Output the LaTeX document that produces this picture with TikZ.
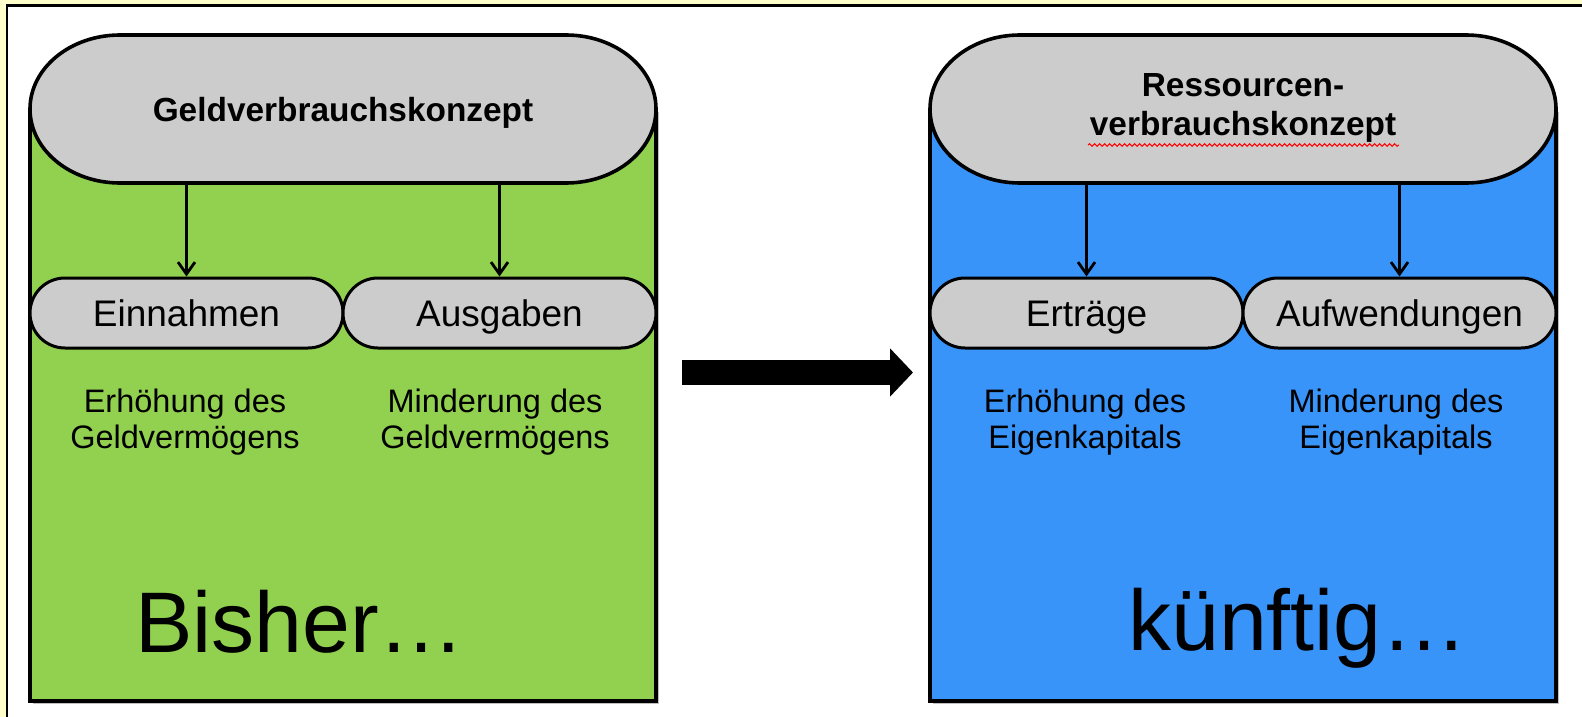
\documentclass[tikz,border=0pt]{standalone}
\usepackage{fontspec}
\setmainfont{Liberation Sans}
\usetikzlibrary{shapes.misc,arrows.meta,decorations.pathmorphing}
\definecolor{bgyellow}{HTML}{FFFFCC}
\definecolor{pillgray}{HTML}{CCCCCC}
\definecolor{boxgreen}{HTML}{92D050}
\definecolor{boxblue}{HTML}{3994F9}
\begin{document}
\begin{tikzpicture}[x=1pt,y=-1pt,
  outline/.style={draw=black,line width=3.6pt},
  pillfill/.style={fill=pillgray,draw=black,line width=3.6pt},
  pilltext/.style={minimum width=626pt,inner sep=0pt,align=center,
    font=\fontsize{33.4}{39}\selectfont\bfseries},
  subpill/.style={rounded rectangle,draw=black,fill=pillgray,line width=3pt,
    minimum width=313pt,minimum height=70pt,inner sep=0pt,
    text height=27.5pt,text depth=0pt,
    font=\fontsize{37}{44}\selectfont},
  desc/.style={align=center,inner sep=0pt,font=\fontsize{32.5}{36}\selectfont},
  bigtext/.style={inner sep=0pt,font=\fontsize{86}{100}\selectfont},
  smallarrow/.style={line width=2.8pt,-{Straight Barb[length=12pt,width=17pt]}},
  bigarrow/.style={line width=25pt,-{Triangle[length=23pt,width=47pt]}},
  shadowfill/.style={fill=black!25}
]
\useasboundingbox (0,0) rectangle (1582,717);
% page background and frame
\fill[bgyellow] (0,0) rectangle (1582,717);
\fill[white] (7,5.5) rectangle (1582,717);
\draw[line width=2.2pt] (7,717) -- (7,5.5) -- (1582,5.5);

% ---------- left column (green) ----------
\fill[shadowfill] (33,112) rectangle (659,704);
\fill[boxgreen] (30,109) rectangle (656,701);
\draw[outline] (30,109) -- (30,701) -- (656,701) -- (656,109);
\path[pillfill] (120,35) -- (566,35)
  arc[start angle=-90,end angle=90,x radius=90,y radius=74] -- (120,183)
  arc[start angle=90,end angle=270,x radius=90,y radius=74] -- cycle;
\node[pilltext,minimum height=140pt] (pillL) at (343,113) {Geldverbrauchskonzept};
\node[subpill] (einL) at (186.5,313) {Einnahmen};
\node[subpill] (ausL) at (499.5,313) {Ausgaben};
\draw[smallarrow] (pillL.south -| einL.north) -- (einL.north);
\draw[smallarrow] (pillL.south -| ausL.north) -- (ausL.north);
\node[desc] (dEinL) at (185,422.5) {Erhöhung des\\Geldvermögens};
\node[desc] (dAusL) at (495,422.5) {Minderung des\\Geldvermögens};
\node[bigtext,anchor=base] (bisher) at (300,652) {Bisher…};

% ---------- big arrow ----------
\coordinate (arrS) at (682,372.5);
\coordinate (arrE) at (913,372.5);
\draw[bigarrow] (arrS) -- (arrE);

% ---------- right column (blue) ----------
\fill[shadowfill] (933,112) rectangle (1559,704);
\fill[boxblue] (930,109) rectangle (1556,701);
\draw[outline] (930,109) -- (930,701) -- (1556,701) -- (1556,109);
\path[pillfill] (1020,35) -- (1466,35)
  arc[start angle=-90,end angle=90,x radius=90,y radius=74] -- (1020,183)
  arc[start angle=90,end angle=270,x radius=90,y radius=74] -- cycle;
\node[pilltext,minimum height=150pt] (pillR) at (1243,108) {Ressourcen-\\verbrauchskonzept};
\draw[red,line width=1pt,decorate,decoration={snake,amplitude=1.3pt,segment length=5pt}]
  (1088,145) -- (1399,145);
\node[subpill] (ertR) at (1086.5,313) {Erträge};
\node[subpill] (aufR) at (1399.5,313) {Aufwendungen};
\draw[smallarrow] (pillR.south -| ertR.north) -- (ertR.north);
\draw[smallarrow] (pillR.south -| aufR.north) -- (aufR.north);
\node[desc] (dErtR) at (1085,422.5) {Erhöhung des\\Eigenkapitals};
\node[desc] (dAufR) at (1396,422.5) {Minderung des\\Eigenkapitals};
\node[bigtext,anchor=base] (kuenftig) at (1298,650) {künftig…};
\end{tikzpicture}
\end{document}
